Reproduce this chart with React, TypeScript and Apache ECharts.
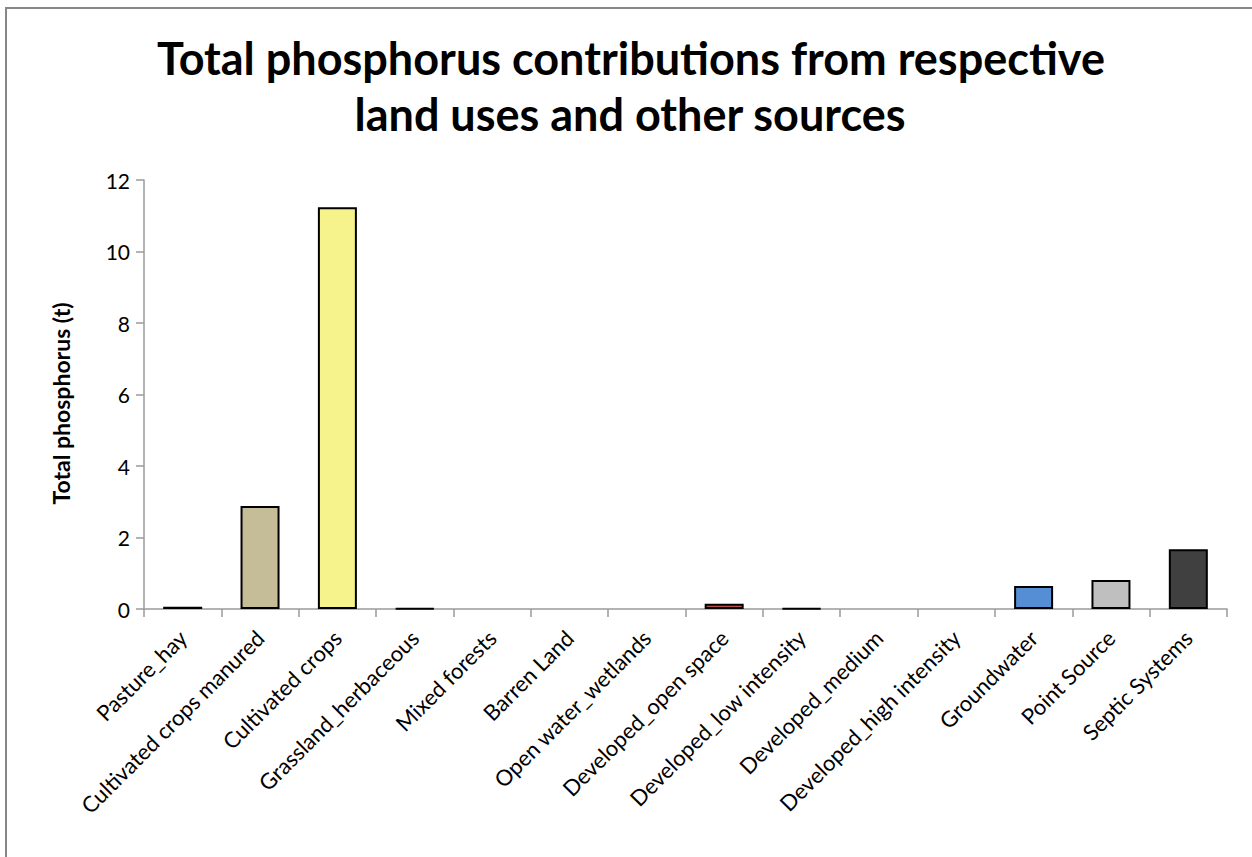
import React, { useEffect, useRef } from "react";
import * as echarts from "echarts";

const categories = [
  "Pasture_hay",
  "Cultivated crops manured",
  "Cultivated crops",
  "Grassland_herbaceous",
  "Mixed forests",
  "Barren Land",
  "Open water_wetlands",
  "Developed_open space",
  "Developed_low intensity",
  "Developed_medium",
  "Developed_high intensity",
  "Groundwater",
  "Point Source",
  "Septic Systems",
];
const values = [0.06, 2.88, 11.24, 0.02, 0, 0, 0, 0.15, 0.02, 0, 0, 0.64, 0.81, 1.67];
const colors = [
  "#9BBB59", "#C4BD97", "#F6F38C", "#77933C", "#4F6228", "#948A54", "#31859C",
  "#C0504D", "#E6B9B8", "#953735", "#632523", "#558ED5", "#BFBFBF", "#404040",
];
const titleLines = ["Total phosphorus contributions from respective", "land uses and other sources"];
const yAxisName = "Total phosphorus (t)";

const FONT = "Lato, 'Open Sans', sans-serif";

export default function App() {
  const ref = useRef<HTMLDivElement>(null);
  useEffect(() => {
    document.body.style.margin = "0";
    const chart = echarts.init(ref.current!, null, { renderer: "svg" });
    chart.setOption({
      animation: false,
      backgroundColor: "#ffffff",
      textStyle: { fontFamily: FONT },
      graphic: [
        {
          type: "rect",
          shape: { x: 6, y: 8, width: 1300, height: 900 },
          style: { fill: "none", stroke: "#878787", lineWidth: 2 },
          silent: true,
        },
        {
          type: "text",
          x: 631,
          y: 58,
          style: {
            text: titleLines[0],
            font: `bold 45px ${FONT}`,
            fill: "#000",
            align: "center",
            verticalAlign: "middle",
          },
        },
        {
          type: "text",
          x: 630,
          y: 114,
          style: {
            text: titleLines[1],
            font: `bold 45px ${FONT}`,
            fill: "#000",
            align: "center",
            verticalAlign: "middle",
          },
        },
      ],
      grid: { left: 144, top: 180, width: 1083, height: 429, containLabel: false },
      xAxis: {
        type: "category",
        data: categories,
        axisLine: { lineStyle: { color: "#9a9a9a", width: 1.5 } },
        axisTick: { show: true, length: 8, alignWithLabel: false, lineStyle: { color: "#9a9a9a", width: 1.5 } },
        axisLabel: {
          rotate: 45,
          interval: 0,
          fontSize: 22,
          color: "#000",
          margin: 25,
          fontFamily: FONT,
        },
      },
      yAxis: {
        type: "value",
        min: 0,
        max: 12,
        interval: 2,
        name: yAxisName,
        nameLocation: "middle",
        nameGap: 72,
        nameRotate: 90,
        nameTextStyle: {
          fontSize: 23,
          fontWeight: "bold",
          color: "#000",
          fontFamily: FONT,
          padding: [0, 18, 0, 0],
        },
        splitLine: { show: false },
        axisLine: { show: true, lineStyle: { color: "#9a9a9a", width: 1.5 } },
        axisTick: { show: true, length: 8, lineStyle: { color: "#9a9a9a", width: 1.5 } },
        axisLabel: { fontSize: 21, color: "#000", margin: 14, fontFamily: FONT },
      },
      series: [
        {
          type: "bar",
          data: values.map((v, i) => ({
            value: v,
            itemStyle: { color: colors[i], borderWidth: v === 0 ? 0 : 2 },
          })),
          barWidth: 39,
          itemStyle: { borderColor: "#000", borderWidth: 2 },
        },
      ],
    });
    return () => chart.dispose();
  }, []);
  return <div ref={ref} style={{ width: 1252, height: 857 }} />;
}
